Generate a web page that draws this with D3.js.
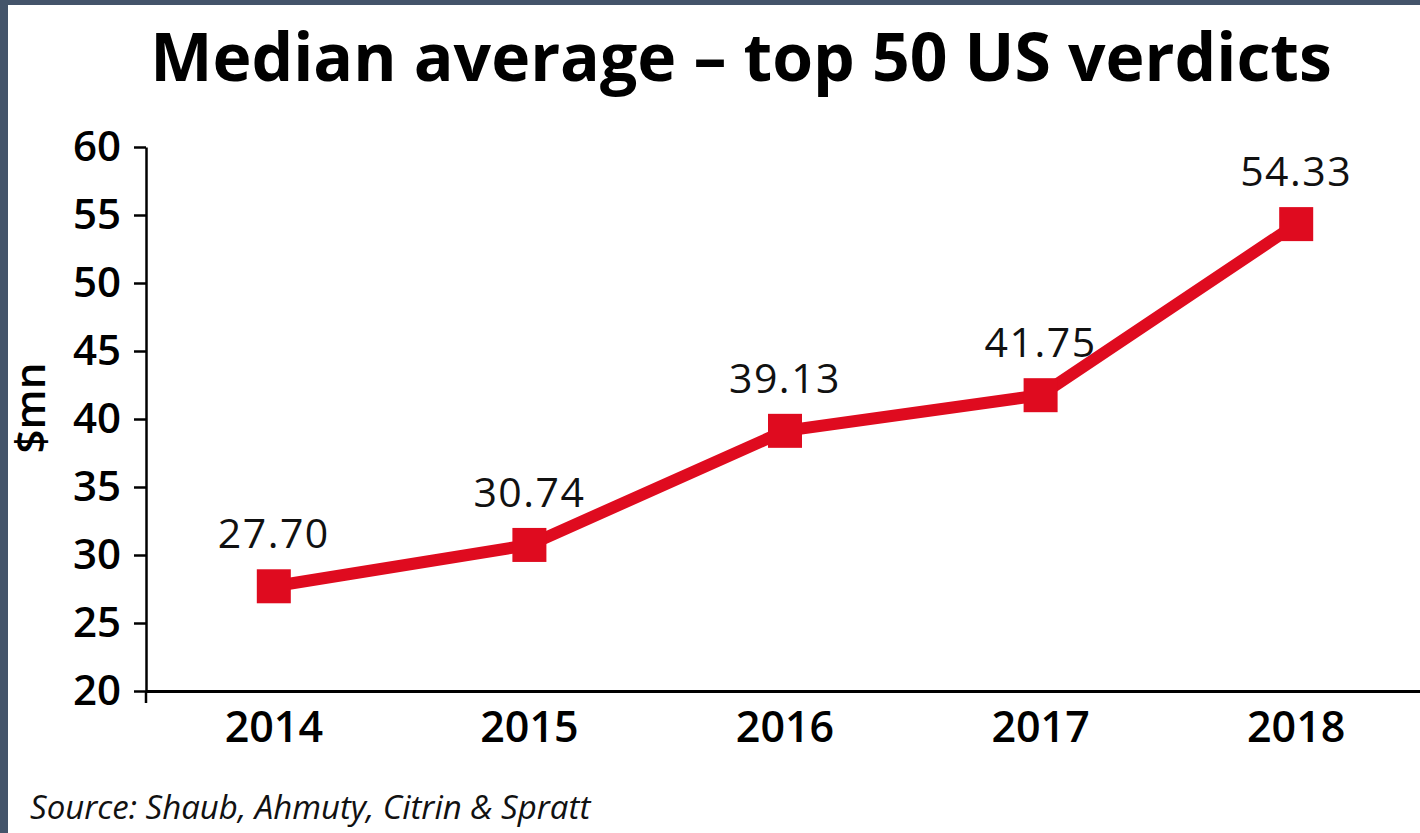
<!DOCTYPE html>
<html>
<head>
<meta charset="utf-8">
<script src="https://cdn.jsdelivr.net/npm/d3@7"></script>
<style>
  html, body { margin: 0; padding: 0; background: #ffffff; }
  svg { display: block; }
</style>
</head>
<body>
<svg id="chart" width="1420" height="833"></svg>
<script>
// Median average of the top 50 US verdicts, $mn
const years = ["2014", "2015", "2016", "2017", "2018"];
const values = [27.70, 30.74, 39.13, 41.75, 54.33];
const yTicks = [20, 25, 30, 35, 40, 45, 50, 55, 60];
const titleText = "Median average \u2013 top 50 US verdicts";
const yAxisLabel = "$mn";
const sourceText = "Source: Shaub, Ahmuty, Citrin & Spratt";

const W = 1420, H = 833;
const svg = d3.select("#chart");
const font = "'Open Sans', 'Noto Sans', sans-serif";
const red = "#df0b1f";

// page frame: dark strip along the left and top edges
svg.append("rect").attr("x", 0).attr("y", 0).attr("width", W).attr("height", H).attr("fill", "#44546a");
svg.append("rect").attr("x", 8).attr("y", 5).attr("width", W - 8).attr("height", H - 5).attr("fill", "#ffffff");

const plot = { left: 146, right: 1424, top: 147, bottom: 691 };

const x = d3.scaleBand().domain(years).range([plot.left, plot.right]);
const y = d3.scaleLinear().domain([20, 60]).range([plot.bottom, plot.top]);

// title
svg.append("text")
  .attr("x", 741).attr("y", 81)
  .attr("text-anchor", "middle")
  .attr("font-family", font).attr("font-weight", 700).attr("font-size", 66)
  .attr("fill", "#000")
  .text(titleText);

// y axis
const yAxis = svg.append("g")
  .attr("transform", `translate(${plot.left},0)`)
  .call(d3.axisLeft(y).tickValues(yTicks).tickSize(12).tickPadding(13).tickSizeOuter(0));
yAxis.select(".domain").attr("stroke", "#000").attr("stroke-width", 2.5);
yAxis.selectAll(".tick line").attr("stroke", "#000").attr("stroke-width", 2.5);
yAxis.selectAll(".tick text")
  .attr("font-family", font).attr("font-weight", 600).attr("font-size", 42)
  .attr("fill", "#000");

// x axis
const xAxis = svg.append("g")
  .attr("transform", `translate(0,${plot.bottom})`)
  .call(d3.axisBottom(x).tickSize(0).tickPadding(20).tickSizeOuter(0));
xAxis.select(".domain").attr("stroke", "#000").attr("stroke-width", 3);
xAxis.selectAll(".tick text")
  .attr("font-family", font).attr("font-weight", 600).attr("font-size", 43)
  .attr("fill", "#000");

// small downward tick at the origin
svg.append("line")
  .attr("x1", plot.left).attr("x2", plot.left)
  .attr("y1", plot.bottom).attr("y2", plot.bottom + 12)
  .attr("stroke", "#000").attr("stroke-width", 2.5);

// y axis title
svg.append("text")
  .attr("transform", `translate(45,${(plot.top + plot.bottom) / 2 - 11}) rotate(-90)`)
  .attr("text-anchor", "middle")
  .attr("font-family", font).attr("font-weight", 600).attr("font-size", 42)
  .attr("fill", "#000")
  .text(yAxisLabel);

// series line
const cx = d => x(d) + x.bandwidth() / 2;
const pts = years.map((yr, i) => [cx(yr), y(values[i])]);
svg.append("path")
  .attr("d", d3.line()(pts))
  .attr("fill", "none")
  .attr("stroke", red).attr("stroke-width", 12)
  .attr("stroke-linejoin", "miter");

// square markers
const m = 34;
svg.selectAll("rect.marker")
  .data(years)
  .join("rect")
  .attr("class", "marker")
  .attr("x", d => cx(d) - m / 2)
  .attr("y", (d, i) => y(values[i]) - m / 2)
  .attr("width", m).attr("height", m)
  .attr("fill", red);

// value labels
svg.selectAll("text.value")
  .data(years)
  .join("text")
  .attr("class", "value")
  .attr("x", d => cx(d))
  .attr("y", (d, i) => y(values[i]) - 38)
  .attr("text-anchor", "middle")
  .attr("font-family", font).attr("font-weight", 400).attr("font-size", 41)
  .attr("letter-spacing", 1.5)
  .attr("fill", "#111")
  .text((d, i) => values[i].toFixed(2));

// source note
svg.append("text")
  .attr("x", 30).attr("y", 819)
  .attr("font-family", font).attr("font-style", "italic").attr("font-size", 33)
  .attr("fill", "#111")
  .text(sourceText);
</script>
</body>
</html>
